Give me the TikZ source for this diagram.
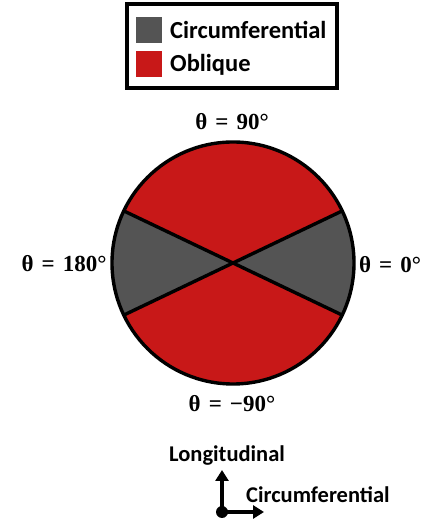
\documentclass[tikz,border=0pt]{standalone}
\usepackage{fontspec}
\setmainfont{Carlito}
\newfontfamily\thetafont{Liberation Serif}
\usepackage{tikz}
\usetikzlibrary{arrows.meta,positioning,calc}
\definecolor{circgray}{HTML}{545454}
\definecolor{obliquered}{HTML}{C81818}

\begin{document}
\begin{tikzpicture}[x=1pt, y=1pt, every node/.style={font=\bfseries\fontsize{24.5}{28}\selectfont}, angle/.style={font=\thetafont\bfseries\fontsize{23}{26}\selectfont, inner sep=0pt}, swatch/.style={minimum width=26pt,minimum height=26pt,inner sep=0pt}, edge/.style={line width=3.4pt}, dir/.style={line width=3.4pt, -{Triangle[length=11pt,width=13pt]}}]
    \useasboundingbox (0,0) rectangle (430,521);

    % legend
    \draw[line width=3.4pt] (127,517) rectangle (337,433);
    \node[swatch, fill=circgray] (sw1) at (149,490.5) {};
    \node[swatch, fill=obliquered] (sw2) at (149,456.5) {};
    \node[anchor=base west, inner sep=0pt] (lab1) at (170,482) {Circumferential};
    \node[anchor=base west, inner sep=0pt] (lab2) at (170,449) {Oblique};

    % circle split into sectors
    \coordinate (C) at (233,258);
    \def\rad{121}
    \def\ang{25.5}
    \fill[circgray] (C) -- ++(-\ang:\rad) arc[start angle=-\ang, end angle=\ang, radius=\rad] -- cycle;
    \fill[obliquered] (C) -- ++(\ang:\rad) arc[start angle=\ang, end angle=180-\ang, radius=\rad] -- cycle;
    \fill[circgray] (C) -- ++(180-\ang:\rad) arc[start angle=180-\ang, end angle=180+\ang, radius=\rad] -- cycle;
    \fill[obliquered] (C) -- ++(180+\ang:\rad) arc[start angle=180+\ang, end angle=360-\ang, radius=\rad] -- cycle;
    \path (C) ++(\ang:\rad) coordinate (ne);
    \path (C) ++(180-\ang:\rad) coordinate (nw);
    \path (C) ++(180+\ang:\rad) coordinate (sw);
    \path (C) ++(-\ang:\rad) coordinate (se);
    \draw[edge] (nw) -- (se);
    \draw[edge] (sw) -- (ne);
    \draw[edge] (C) circle[radius=\rad];

    % angle labels
    \node[angle] (t90) at (232,399) {θ\hspace{0.35em}=\hspace{0.35em}90°};
    \node[angle] (t180) at (64,257) {θ\hspace{0.35em}=\hspace{0.35em}180°};
    \node[angle] (t0) at (390,256) {θ\hspace{0.35em}=\hspace{0.35em}0°};
    \node[angle] (tm90) at (232,117) {θ\hspace{0.35em}=\hspace{0.35em}−90°};

    % directions
    \node[circle, fill=black, inner sep=0pt, minimum size=12pt] (o) at (222,9) {};
    \coordinate (up) at (222,51);
    \coordinate (rt) at (264,9);
    \draw[dir] (o.center) -- (up);
    \draw[dir] (o.center) -- (rt);
    \node[anchor=base, inner sep=0pt, font=\bfseries\fontsize{22.5}{26}\selectfont] (lon) at (227,59) {Longitudinal};
    \node[anchor=base west, inner sep=0pt, font=\bfseries\fontsize{22.5}{26}\selectfont] (cir) at (246,18) {Circumferential};
\end{tikzpicture}
\end{document}
